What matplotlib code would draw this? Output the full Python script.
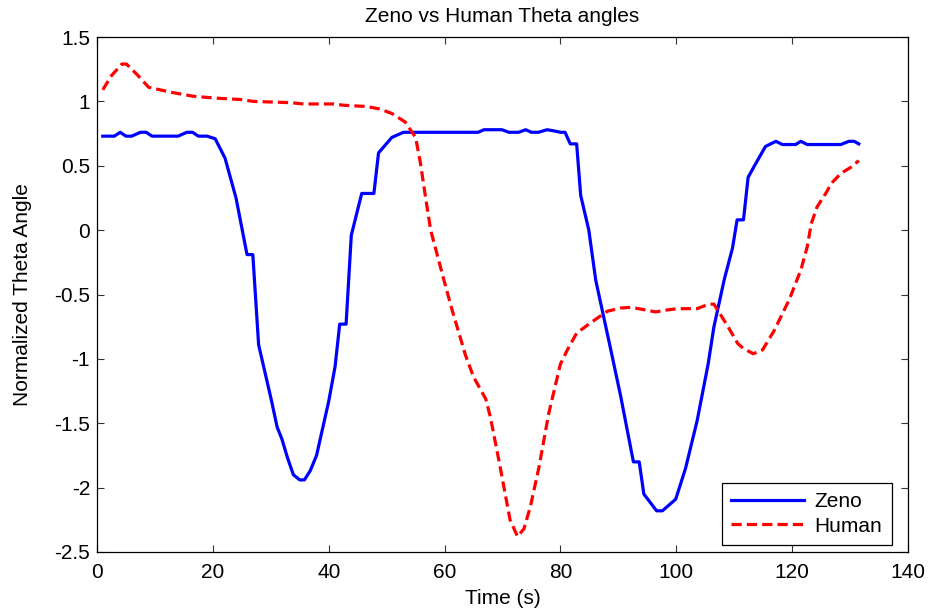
import matplotlib
matplotlib.use("Agg")
import matplotlib.pyplot as plt
from matplotlib.ticker import MultipleLocator, FuncFormatter


# Zeno (robot) theta
zeno_t = [1, 3, 4, 5, 6, 7.5, 8.5, 9.5, 14, 15.5, 16.5, 17.5, 19, 20.4, 22.1, 24,
          25.9, 26.9, 27.9, 30.1, 31.1, 31.9, 32.9, 33.9, 35, 35.8, 36.8, 37.9,
          40, 41.1, 41.9, 43, 43.9, 45.7, 47.8, 48.6, 50.9, 52.9, 65.8, 66.8,
          69.9, 71.1, 72.8, 74, 75, 76.2, 77.7, 79, 80, 80.8, 81.7, 82.8, 83.5,
          84.9, 86.1, 88.7, 90.4, 92.6, 93.6, 94.4, 96.6, 97.6, 99.9, 101.6,
          103.6, 105.5, 106.5, 108.3, 109.7, 110.5, 111.6, 112.4, 113.5, 115.4,
          117.2, 118.3, 120.6, 121.5, 122.6, 128.4, 129.8, 130.7, 131.5]
zeno_theta = [0.73, 0.73, 0.76, 0.73, 0.73, 0.76, 0.76, 0.73, 0.73, 0.76, 0.76,
              0.73, 0.73, 0.71, 0.56, 0.25, -0.19, -0.19, -0.89, -1.32, -1.53,
              -1.62, -1.77, -1.90, -1.94, -1.94, -1.87, -1.75, -1.33, -1.06,
              -0.73, -0.73, -0.04, 0.285, 0.285, 0.60, 0.72, 0.76, 0.76, 0.78,
              0.78, 0.76, 0.76, 0.78, 0.76, 0.76, 0.78, 0.77, 0.76, 0.76, 0.67,
              0.67, 0.27, 0.0, -0.39, -0.93, -1.29, -1.80, -1.80, -2.05, -2.18,
              -2.18, -2.09, -1.85, -1.48, -1.04, -0.75, -0.38, -0.14, 0.08, 0.08,
              0.41, 0.50, 0.65, 0.69, 0.665, 0.665, 0.69, 0.665, 0.665, 0.69,
              0.69, 0.67]

# Human theta
human_t = [1, 2.5, 4.3, 5.1, 7.1, 8.9, 10.9, 12.9, 16.6, 20.7, 24.7, 27, 33.4,
           35.7, 40.9, 42.6, 46.6, 48.9, 50.9, 53.2, 55, 55.8, 56.7, 57.6, 59.9,
           61.3, 63.6, 65, 67.1, 67.9, 69.6, 71.3, 72.6, 73.7, 74.8, 76.3, 78,
           80, 81.2, 82.8, 85.2, 88.1, 90.4, 92.1, 94.1, 96.4, 98.4, 100.2,
           103.6, 105.6, 106.5, 108.8, 110.6, 111.6, 113.3, 114.9, 116.9, 119.5,
           121.5, 122.6, 123.3, 124.3, 126, 126.7, 128.4, 130.2, 131.5]
human_theta = [1.09, 1.2, 1.29, 1.29, 1.20, 1.11, 1.09, 1.07, 1.04, 1.025, 1.015,
               1.0, 0.99, 0.98, 0.98, 0.97, 0.96, 0.94, 0.906, 0.84, 0.72, 0.53,
               0.26, 0.0, -0.39, -0.62, -0.97, -1.14, -1.31, -1.45, -1.84, -2.25,
               -2.38, -2.32, -2.15, -1.84, -1.42, -1.04, -0.93, -0.80, -0.72,
               -0.63, -0.605, -0.60, -0.615, -0.635, -0.62, -0.61, -0.61, -0.575,
               -0.575, -0.74, -0.88, -0.92, -0.96, -0.93, -0.78, -0.54, -0.31,
               -0.13, 0.05, 0.18, 0.30, 0.36, 0.44, 0.49, 0.54]


def main():
    plt.rcParams["font.family"] = ["Liberation Sans", "DejaVu Sans"]
    plt.rcParams["axes.unicode_minus"] = False
    fs = 15

    fig = plt.figure(figsize=(9.29, 6.16), dpi=100)
    ax = fig.add_axes([0.1044, 0.1039, 0.873, 0.836])

    ax.plot(zeno_t, zeno_theta, color="#0000ff", linewidth=2.3, label="Zeno")
    ax.plot(human_t, human_theta, color="#ff0000", linewidth=2.3,
            linestyle=(0, (3.2, 1.6)), label="Human")

    ax.set_xlim(0, 140)
    ax.set_ylim(-2.5, 1.5)
    ax.xaxis.set_major_locator(MultipleLocator(20))
    ax.yaxis.set_major_locator(MultipleLocator(0.5))
    ax.yaxis.set_major_formatter(FuncFormatter(lambda v, _: f"{v:g}"))

    ax.tick_params(direction="in", length=5, width=0.8, top=True, right=True,
                   labelsize=fs, colors="#333333", labelcolor="black")
    ax.tick_params(axis="x", pad=8)
    ax.tick_params(axis="y", pad=5)
    for s in ax.spines.values():
        s.set_linewidth(0.9)
        s.set_color("black")

    ax.set_title("Zeno vs Human Theta angles", fontsize=fs, pad=11)
    ax.set_xlabel("Time (s)", fontsize=fs, labelpad=5)
    ax.set_ylabel("Normalized Theta Angle", fontsize=fs, labelpad=16)

    leg = ax.legend(loc="lower right", bbox_to_anchor=(0.980, 0.0136),
                    borderaxespad=0, fontsize=fs, handlelength=3.5,
                    handletextpad=0.5, labelspacing=0.25, borderpad=0.45,
                    fancybox=False, framealpha=1, edgecolor="black")
    leg.get_frame().set_linewidth(0.9)

    fig.savefig("out.png", dpi=100)
    plt.close(fig)


if __name__ == "__main__":
    main()
